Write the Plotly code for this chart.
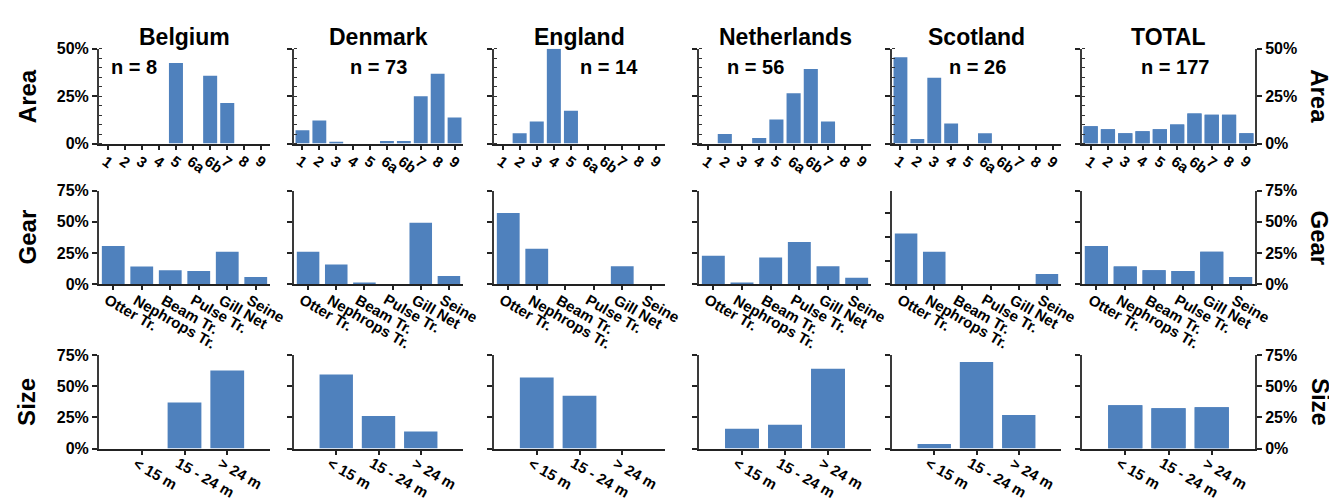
import plotly.graph_objects as go

countries = ["Belgium", "Denmark", "England", "Netherlands", "Scotland", "TOTAL"]
n_counts = [8, 73, 14, 56, 26, 177]
area_cats = ["1", "2", "3", "4", "5", "6a", "6b", "7", "8", "9"]
gear_cats = ["Otter Tr.", "Nephrops Tr.", "Beam Tr.", "Pulse Tr.", "Gill Net", "Seine"]
size_cats = ["< 15 m", "15 - 24 m", "> 24 m"]

area_belgium = [0, 0, 0, 0, 42.5, 0, 35.8, 21.4, 0, 0]
area_denmark = [7.0, 12.2, 0.9, 0, 0, 1.4, 1.4, 25.0, 36.8, 13.7]
area_england = [0, 5.5, 11.6, 50.0, 17.3, 0, 0, 0, 0, 0]
area_netherlands = [0, 5.0, 0, 2.9, 12.7, 26.5, 39.4, 11.6, 0, 0]
area_scotland = [45.5, 2.4, 34.8, 10.6, 0, 5.5, 0, 0, 0, 0]
area_total = [9.1, 7.5, 5.5, 6.5, 7.5, 10.1, 15.8, 15.2, 15.2, 5.5]

gear_belgium = [30.7, 14.2, 11.3, 10.6, 26.0, 5.9]
gear_denmark = [26.0, 15.9, 1.3, 0, 49.2, 6.7]
gear_england = [57.0, 28.4, 0, 0, 14.4, 0]
gear_netherlands = [22.9, 1.3, 21.4, 33.8, 14.4, 5.2]
gear_scotland = [40.7, 26.0, 0, 0, 0, 8.2]
gear_total = [30.7, 14.2, 11.3, 10.6, 26.0, 5.9]

size_belgium = [0, 37.0, 62.6]
size_denmark = [59.5, 26.1, 13.7]
size_england = [57.1, 42.4, 0]
size_netherlands = [16.0, 19.1, 64.1]
size_scotland = [3.6, 69.6, 26.9]
size_total = [34.7, 32.3, 33.1]

area_data = [area_belgium, area_denmark, area_england, area_netherlands, area_scotland, area_total]
gear_data = [gear_belgium, gear_denmark, gear_england, gear_netherlands, gear_scotland, gear_total]
size_data = [size_belgium, size_denmark, size_england, size_netherlands, size_scotland, size_total]
row_names = ["Area", "Gear", "Size"]

W, H = 1337, 504
FONT = "Liberation Sans, Arial, sans-serif"
BAR = "#4F81BD"

cols_px = [(91, 262), (286, 455), (486, 657), (691, 863), (884, 1053), (1074, 1247)]
rows_px = [(34, 132), (180.7, 277.7), (351, 447.7)]
n_x_px = [126, 370, 601, 747, 969, 1167]

row_cats = [area_cats, gear_cats, size_cats]
row_data = [area_data, gear_data, size_data]
row_ymax = [50, 75, 75]
row_ticks = [[0, 25, 50], [0, 25, 50, 75], [0, 25, 50, 75]]
row_xrange = [[-0.5, 9.5], [-0.5, 5.5], [-1, 3]]
row_gap = [0.18, 0.2, 0.21]
row_xangle = [36, 30, 30]
row_label_gap = [6, 4, 3]
row_label_shift = [-11, -14, -14]

fig = go.Figure()
layout = dict(
    width=W, height=H, margin=dict(l=0, r=0, t=0, b=0),
    paper_bgcolor="white", plot_bgcolor="white", showlegend=False,
    font=dict(family=FONT, color="black"),
)

ytickfont = dict(family=FONT, size=16, color="black", weight="bold")
annotations = []

for r in range(3):
    y0p, y1p = rows_px[r]
    ydom = [1 - y1p / H, 1 - y0p / H]
    for c in range(6):
        k = r * 6 + c + 1
        x0p, x1p = cols_px[c]
        xdom = [x0p / W, x1p / W]
        xname = "x" if k == 1 else f"x{k}"
        yname = "y" if k == 1 else f"y{k}"
        fig.add_trace(go.Bar(
            x=row_cats[r], y=row_data[r][c], xaxis=xname, yaxis=yname,
            width=1 - row_gap[r],
            marker=dict(color=BAR, line=dict(width=0)), hoverinfo="skip",
        ))
        xa = dict(
            domain=xdom, anchor=yname, type="category", range=row_xrange[r],
            categoryorder="array", categoryarray=row_cats[r],
            tickmode="array", tickvals=row_cats[r], showticklabels=False,
            showline=True, linecolor="#222", linewidth=2,
            ticks="outside", ticklen=4, tickwidth=1.5, tickcolor="#222",
            showgrid=False, zeroline=False, fixedrange=True,
        )
        tv = row_ticks[r]
        if r == 1 and c == 4:
            tv = [0, 19, 38, 57]
        ya = dict(
            domain=ydom, anchor=xname, range=[0, row_ymax[r]],
            showline=True, linecolor="#3a3a3a", linewidth=2,
            ticks="outside", ticklen=5, tickwidth=1.5, tickcolor="#222",
            tickvals=tv, ticktext=[f"{v}%" for v in tv],
            showticklabels=(c == 0), tickfont=ytickfont,
            showgrid=False, zeroline=False, fixedrange=True,
        )
        if r == 0:
            ya["minor"] = dict(ticks="inside", ticklen=3, dtick=5, tickwidth=1, tickcolor="#333", showgrid=False)
        layout["xaxis" if k == 1 else f"xaxis{k}"] = xa
        layout["yaxis" if k == 1 else f"yaxis{k}"] = ya
        # rotated category labels, positioned by category index on the axis
        for i, cat in enumerate(row_cats[r]):
            annotations.append(dict(
                x=i, xref=xname, y=1 - (y1p + row_label_gap[r]) / H, yref="paper",
                text=f"<b>{cat}</b>", showarrow=False, textangle=row_xangle[r],
                xanchor="left", yanchor="top", xshift=row_label_shift[r],
                font=dict(family=FONT, size=15, color="black"),
            ))
    # right axis for TOTAL
    kr = 18 + r + 1
    kt = r * 6 + 6
    layout[f"yaxis{kr}"] = dict(
        overlaying=f"y{kt}", anchor=f"x{kt}", side="right", range=[0, row_ymax[r]],
        showline=True, linecolor="#3a3a3a", linewidth=2,
        ticks="outside", ticklen=5, tickwidth=1.5, tickcolor="#222",
        tickvals=row_ticks[r], ticktext=[f"{v}%" for v in row_ticks[r]],
        tickfont=ytickfont, showgrid=False, zeroline=False, fixedrange=True,
    )
    fig.add_trace(go.Bar(
        x=row_cats[r], y=row_data[r][5], xaxis=f"x{kt}", yaxis=f"y{kr}",
        width=1 - row_gap[r],
        marker=dict(color=BAR, line=dict(width=0)), hoverinfo="skip",
    ))

for c, name in enumerate(countries):
    x0p, x1p = cols_px[c]
    annotations.append(dict(
        x=(x0p + x1p) / 2 / W, y=1 - 22 / H, xref="paper", yref="paper",
        text=f"<b>{name}</b>", showarrow=False, xanchor="center", yanchor="middle",
        font=dict(family=FONT, size=23, color="black"),
    ))
    annotations.append(dict(
        x=n_x_px[c] / W, y=1 - 53 / H, xref="paper", yref="paper",
        text=f"<b>n = {n_counts[c]}</b>", showarrow=False, xanchor="center", yanchor="middle",
        font=dict(family=FONT, size=20, color="black"),
    ))
for r, rn in enumerate(row_names):
    yc = 1 - (rows_px[r][0] + rows_px[r][1]) / 2 / H
    annotations.append(dict(
        x=19 / W, y=yc, xref="paper", yref="paper", text=f"<b>{rn}</b>",
        showarrow=False, textangle=-90, xanchor="center", yanchor="middle",
        font=dict(family=FONT, size=24, color="black"),
    ))
    annotations.append(dict(
        x=1312 / W, y=yc, xref="paper", yref="paper", text=f"<b>{rn}</b>",
        showarrow=False, textangle=90, xanchor="center", yanchor="middle",
        font=dict(family=FONT, size=24, color="black"),
    ))
layout["annotations"] = annotations
fig.update_layout(**layout)
fig.write_html("out.html")
